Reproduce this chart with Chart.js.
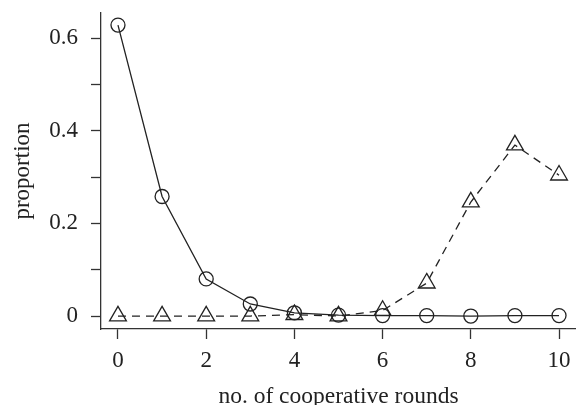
<!DOCTYPE html>
<html>
<head>
<meta charset="utf-8">
<script src="https://cdn.jsdelivr.net/npm/chart.js@4"></script>
<style>
  html, body { margin: 0; padding: 0; background: #fff; }
  #wrap { width: 576px; height: 405px; }
</style>
</head>
<body>
<div id="wrap"><canvas id="chart"></canvas></div>
<script>
// rounds 0..10
const rounds = [0, 1, 2, 3, 4, 5, 6, 7, 8, 9, 10];
// circles (solid line)
const circleValues = [0.628, 0.258, 0.080, 0.026, 0.007, 0.002, 0.001, 0.001, 0.000, 0.001, 0.001];
// triangles (dashed line)
const triangleValues = [0.000, 0.000, 0.000, 0.000, 0.003, 0.000, 0.012, 0.071, 0.246, 0.369, 0.304];

const xTicks = [0, 2, 4, 6, 8, 10];
const yTicks = [0, 0.1, 0.2, 0.3, 0.4, 0.5, 0.6];
const yLabelled = [0, 0.2, 0.4, 0.6];

const ink = '#222';
const axisInk = '#333';
const serif = 'Liberation Serif, DejaVu Serif, serif';

function toPoints(values) {
    return rounds.map((r, i) => ({ x: r, y: values[i] }));
}

// no extra room for overhanging tick labels, the plot box is fixed
function noPadding(scale) {
    scale.paddingLeft = 0;
    scale.paddingRight = 0;
    scale.paddingTop = 0;
    scale.paddingBottom = 0;
}

new Chart(document.getElementById('chart'), {
    type: 'line',
    data: {
        datasets: [
            {
                label: 'circles',
                data: toPoints(circleValues),
                borderColor: ink,
                borderWidth: 1.3,
                pointStyle: 'circle',
                pointRadius: 7,
                pointBorderWidth: 1.3,
                pointBackgroundColor: 'rgba(0,0,0,0)',
                pointBorderColor: ink,
                tension: 0,
            },
            {
                label: 'triangles',
                data: toPoints(triangleValues),
                borderColor: ink,
                borderWidth: 1.3,
                borderDash: [8, 6],
                pointStyle: 'triangle',
                pointRadius: 9.7,
                pointBorderWidth: 1.3,
                pointBackgroundColor: 'rgba(0,0,0,0)',
                pointBorderColor: ink,
                tension: 0,
            }
        ]
    },
    options: {
        responsive: true,
        maintainAspectRatio: false,
        animation: false,
        layout: { autoPadding: false, padding: { top: 13, left: 0, right: 0, bottom: 0 } },
        plugins: {
            legend: { display: false },
            tooltip: { enabled: false }
        },
        scales: {
            x: {
                type: 'linear',
                min: -0.385,
                max: 10.385,
                afterFit: (scale) => { scale.height = 76; noPadding(scale); },
                afterBuildTicks: (scale) => { scale.ticks = xTicks.map(v => ({ value: v })); },
                border: { display: true, color: axisInk, width: 1.3 },
                grid: {
                    drawOnChartArea: false,
                    drawTicks: true,
                    tickLength: 10,
                    tickColor: axisInk,
                    tickWidth: 1.3,
                },
                ticks: {
                    color: ink,
                    padding: 8,
                    maxRotation: 0,
                    autoSkip: false,
                    font: { family: serif, size: 23 },
                    callback: (v) => String(v),
                },
                title: {
                    display: true,
                    text: 'no. of cooperative rounds',
                    color: ink,
                    font: { family: serif, size: 23.5, lineHeight: 1 },
                    padding: { top: 0, bottom: -4 },
                }
            },
            y: {
                type: 'linear',
                min: -0.028,
                max: 0.654,
                afterFit: (scale) => { scale.width = 101; noPadding(scale); },
                afterBuildTicks: (scale) => { scale.ticks = yTicks.map(v => ({ value: v })); },
                border: { display: true, color: axisInk, width: 1.3 },
                grid: {
                    drawOnChartArea: false,
                    drawTicks: true,
                    tickLength: 10,
                    tickColor: axisInk,
                    tickWidth: 1.3,
                },
                ticks: {
                    color: ink,
                    padding: 13,
                    autoSkip: false,
                    font: { family: serif, size: 23 },
                    callback: (v) => {
                        const hit = yLabelled.find(t => Math.abs(t - v) < 1e-9);
                        return hit === undefined ? '' : (hit === 0 ? '0' : hit.toFixed(1));
                    },
                },
                title: {
                    display: true,
                    text: 'proportion',
                    color: ink,
                    font: { family: serif, size: 23, lineHeight: 1 },
                    padding: { top: 11, bottom: 0 },
                }
            }
        }
    }
});
</script>
</body>
</html>
